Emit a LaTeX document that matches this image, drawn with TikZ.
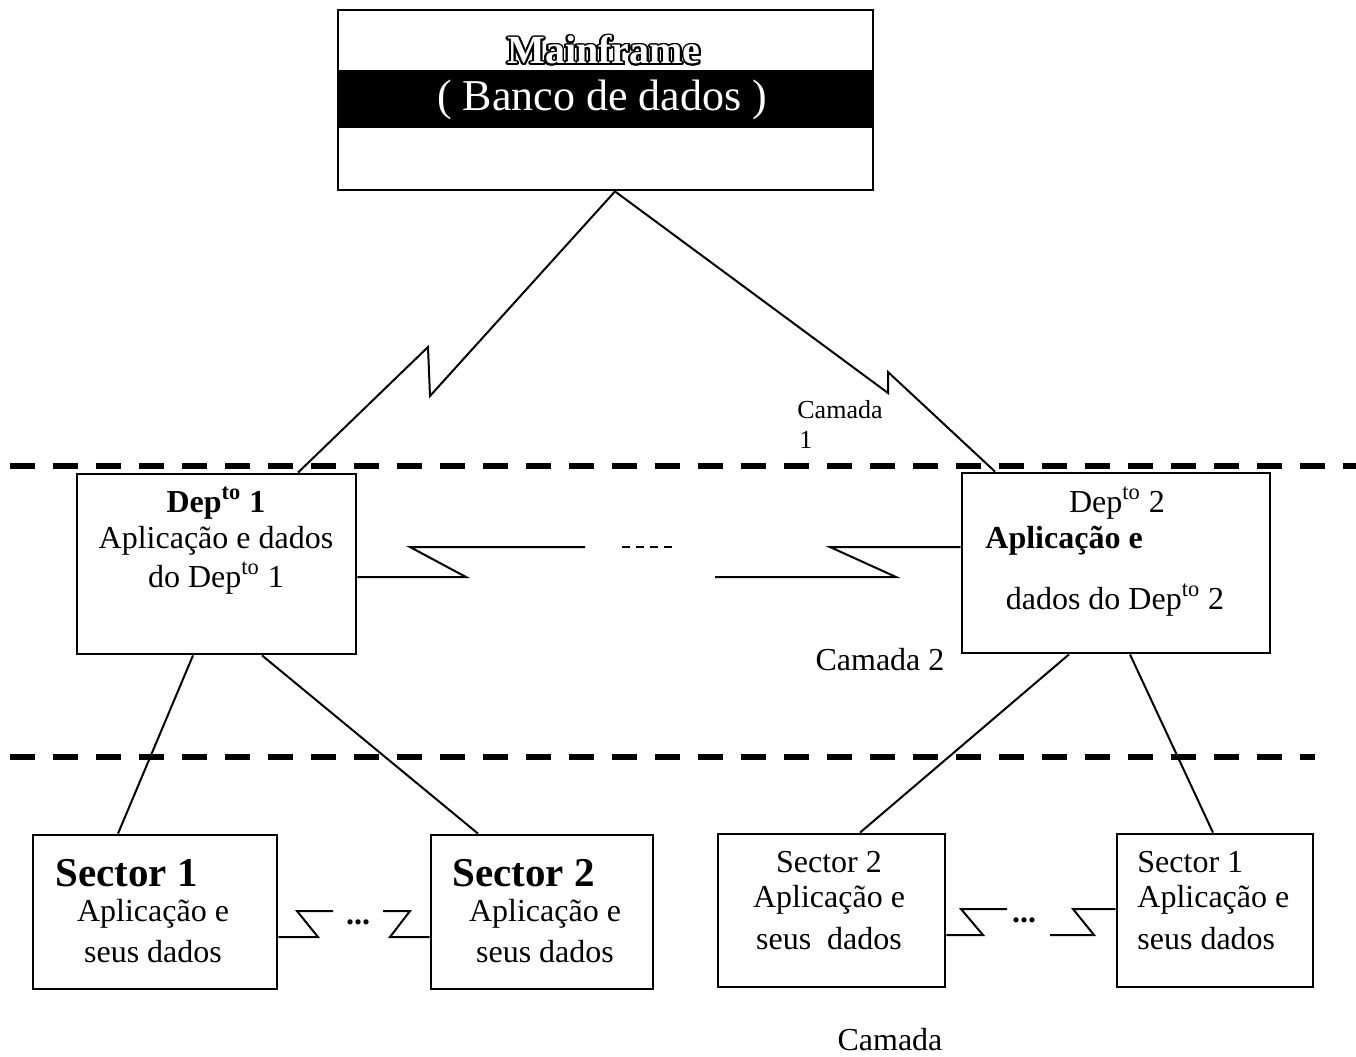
\documentclass[tikz,border=0pt]{standalone}
\usepackage{fontspec}
\setmainfont{Liberation Serif}
\usetikzlibrary{calc}
\begin{document}
\begin{tikzpicture}[x=0.5pt,y=-0.5pt,
  box/.style={draw, line width=1.4pt, inner sep=0pt},
  link/.style={line width=1pt, line join=miter},
  layer/.style={line width=3pt, dash pattern=on 12.5pt off 9pt},
  txt/.style={font=\fontsize{16}{19}\selectfont, inner sep=0pt},
  txtb/.style={font=\bfseries\fontsize{16}{19}\selectfont, inner sep=0pt},
  big/.style={font=\bfseries\fontsize{20.5}{24}\selectfont, inner sep=0pt},
  small/.style={font=\fontsize{13}{15}\selectfont, inner sep=0pt},
  mf/.style={font=\bfseries\fontsize{20}{24}\selectfont, inner sep=0pt}]
\useasboundingbox (0,0) rectangle (1356,1056);

% layer separators
\draw[layer] (10,466) -- (1356,466);
\draw[layer] (10,757) -- (1315,757);

% mainframe box with its dark band
\fill (338,70) rectangle (873,128);
\node[box, minimum width=267.5pt, minimum height=90pt] (main) at (605.5,100) {};
\foreach \a in {0,22.5,...,337.5}
  \node[mf, text=black] at ($(604,50)+(\a:1.8)$) {Mainframe};
\node[mf, text=white] (mftitle) at (604,50) {Mainframe};
\node[font=\fontsize{22}{26}\selectfont, inner sep=0pt, text=white] (banco) at (602,100) {( Banco de dados )};

% departments
\node[box, minimum width=139.5pt, minimum height=90pt] (dep1) at (216.5,564) {};
\node[txtb] (d1a) at (216,503) {Dep\textsuperscript{to} 1};
\node[txt] (d1b) at (216,541) {Aplicação e dados};
\node[txt] (d1c) at (216,578) {do Dep\textsuperscript{to} 1};

\node[box, minimum width=154pt, minimum height=90pt] (dep2) at (1116,563) {};
\node[txt] (d2a) at (1117,503) {Dep\textsuperscript{to} 2};
\node[txtb, anchor=west] (d2b) at (985,541) {Aplicação e};
\node[txt] (d2c) at (1115,600) {dados do Dep\textsuperscript{to} 2};

% sectors
\node[box, minimum width=122pt, minimum height=77pt] (s1l) at (155,912) {};
\node[big, anchor=west] (s1la) at (55,873) {Sector 1};
\node[txt] (s1lb) at (153,914) {Aplicação e};
\node[txt] (s1lc) at (153,952) {seus dados};

\node[box, minimum width=111pt, minimum height=77pt] (s2l) at (542,912) {};
\node[big, anchor=west] (s2la) at (452,873) {Sector 2};
\node[txt] (s2lb) at (545,914) {Aplicação e};
\node[txt] (s2lc) at (545,952) {seus dados};

\node[box, minimum width=113.5pt, minimum height=76.5pt] (s2r) at (831.5,910.5) {};
\node[txt] (s2ra) at (829,862) {Sector 2};
\node[txt] (s2rb) at (829,900) {Aplicação e};
\node[txt] (s2rc) at (829,939) {seus\ \ dados};

\node[box, minimum width=98pt, minimum height=76.5pt] (s1r) at (1215,910.5) {};
\node[txt, anchor=west] (s1ra) at (1137,862) {Sector 1};
\node[txt, anchor=west] (s1rb) at (1137,900) {Aplicação e};
\node[txt, anchor=west] (s1rc) at (1137,939) {seus dados};

% layer labels
\node[small, anchor=west] (cam1a) at (797,410) {Camada};
\node[small, anchor=west] (cam1b) at (799,440) {1};
\node[txt] (cam2) at (880,660) {Camada 2};
\node[txt] (cam3) at (890,1040) {Camada};

% mainframe to departments (radio links)
\coordinate (apex) at (main.south -| 615,0);
\draw[link] (dep1.north -| 298,0) -- (428,347) -- (430,396) -- (apex);
\draw[link] (apex) -- (888,393) -- (888,372) -- (dep2.north -| 995,0);

% department to department link
\draw[link] (dep1.east |- 0,577) -- (466,577) -- (410,547) -- (585,547);
\draw[link, dash pattern=on 4pt off 3pt] (622,547) -- (676,547);
\draw[link] (715,577) -- (896,577) -- (830,547) -- (dep2.west |- 0,547);

% departments to sectors
\draw[link] (dep1.south -| 193,0) -- (s1l.north -| 118,0);
\draw[link] (dep1.south -| 262,0) -- (s2l.north -| 478,0);
\draw[link] (dep2.south -| 1069,0) -- (s2r.north -| 860,0);
\draw[link] (dep2.south -| 1130,0) -- (s1r.north -| 1213,0);

% sector to sector links
\draw[link] (s1l.east |- 0,937) -- (318,937) -- (297,911) -- (333,911);
\node[txtb] (dots1) at (358,922) {...};
\draw[link] (383,911) -- (410,911) -- (390,937) -- (s2l.west |- 0,937);

\draw[link] (s2r.east |- 0,935) -- (983,935) -- (961,909) -- (1007,909);
\node[txtb] (dots2) at (1024,920) {...};
\draw[link] (1050,935) -- (1094,935) -- (1073,909) -- (s1r.west |- 0,909);
\end{tikzpicture}
\end{document}
